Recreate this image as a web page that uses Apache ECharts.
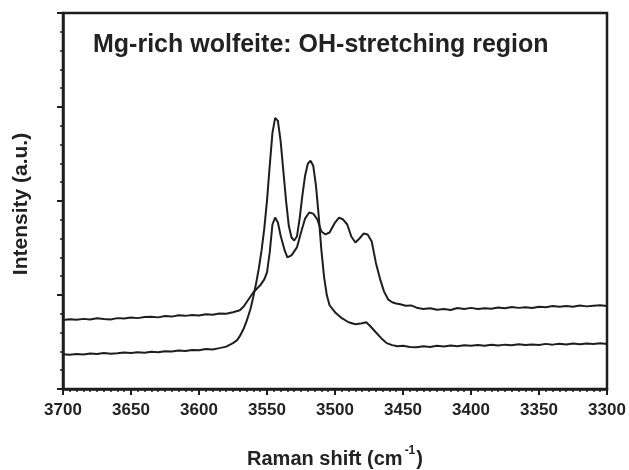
<!DOCTYPE html>
<html>

<head>
  <meta charset="utf-8">
  <title>Mg-rich wolfeite Raman</title>
  <script src="https://cdn.jsdelivr.net/npm/echarts@6/dist/echarts.min.js"></script>
  <style>
    html, body {
      margin: 0;
      padding: 0;
      background: #fff;
    }

    #chart {
      width: 629px;
      height: 470px;
    }
  </style>
</head>

<body>
  <div id="chart"></div>
  <script>
    // spectrum with the upper baseline (weaker, broader bands)
    const waveA = [3700, 3695, 3690, 3685, 3680, 3675, 3670, 3665, 3660, 3655, 3650, 3645, 3640, 3635, 3630, 3625, 3620, 3615, 3610, 3605, 3600, 3595, 3590, 3585, 3580, 3575,
      3570, 3567, 3564, 3560, 3555, 3552, 3550, 3548, 3546, 3544, 3542, 3540, 3537, 3535, 3532, 3528, 3525, 3522, 3519, 3516, 3513, 3510, 3507, 3504, 3500, 3497, 3494, 3491, 3488, 3485, 3482, 3479, 3476, 3473, 3470, 3467, 3464, 3461,
      3458, 3455, 3452, 3448, 3444, 3440, 3435, 3430, 3425, 3420, 3415, 3410, 3405, 3400, 3395, 3390, 3385, 3380, 3375, 3370, 3365, 3360, 3355, 3350, 3345, 3340, 3335, 3330, 3325, 3320, 3315, 3310, 3305, 3300];
    const intensA = [73.5, 74.3, 73.6, 74.6, 74.0, 75.2, 74.5, 74.0, 75.4, 75.0, 76.0, 75.4, 76.5, 76.9, 76.2, 77.6, 77.0, 78.4, 77.8, 78.8, 78.3, 79.6, 79.0, 80.4, 80.0, 81.7,
      83.8, 88.0, 94.4, 102.9, 110.3, 116.6, 124.1, 145.3, 175.0, 182.4, 177.1, 163.3, 147.4, 140.0, 142.1, 150.6, 166.5, 181.3, 187.7, 186.6, 180.3, 167.5, 164.4, 166.5, 177.1, 182.4, 180.3, 175.0, 162.2, 155.9, 160.1, 165.4, 164.4, 156.9, 134.7, 117.7, 103.9, 95.4,
      92.3, 91.0, 90.1, 88.6, 88.9, 86.5, 85.2, 86.0, 84.3, 85.0, 84.0, 86.2, 85.0, 86.3, 85.2, 86.0, 85.4, 86.8, 86.0, 87.2, 86.3, 86.9, 86.2, 87.6, 87.0, 88.3, 87.4, 88.2, 87.6, 88.8, 87.9, 88.6, 89.0, 88.4];

    // spectrum with the lower baseline (sharp 3544 / 3518 bands)
    const waveB = [3700, 3695, 3690, 3685, 3680, 3675, 3670, 3665, 3660, 3655, 3650, 3645, 3640, 3635, 3630, 3625, 3620, 3615, 3610, 3605, 3600, 3595, 3590, 3585, 3580,
      3575, 3572, 3570, 3567, 3565, 3562, 3560, 3558, 3556, 3554, 3552, 3550, 3548, 3546, 3544, 3542, 3540, 3538, 3536, 3534, 3532, 3530, 3528, 3526, 3524, 3522, 3520, 3518, 3516, 3514, 3512, 3510, 3508, 3506, 3504, 3500, 3495, 3490, 3485, 3480, 3477, 3474, 3470, 3466, 3462,
      3458, 3454, 3450, 3445, 3440, 3435, 3430, 3425, 3420, 3415, 3410, 3405, 3400, 3395, 3390, 3385, 3380, 3375, 3370, 3365, 3360, 3355, 3350, 3345, 3340, 3335, 3330, 3325, 3320, 3315, 3310, 3305, 3300];
    const intensB = [37.0, 36.4, 37.2, 36.8, 37.8, 37.2, 38.3, 37.6, 38.0, 38.9, 38.3, 39.0, 38.6, 39.6, 39.1, 40.2, 39.8, 41.0, 40.5, 41.6, 41.2, 42.6, 42.0, 43.5, 45.1,
      48.8, 52.0, 56.2, 64.7, 72.1, 85.9, 98.6, 112.4, 128.3, 147.4, 170.7, 200.4, 237.5, 272.5, 288.4, 285.2, 264.0, 232.2, 200.4, 173.9, 161.2, 158.0, 162.2, 181.3, 205.7, 226.9, 239.7, 242.8, 237.5, 216.3, 184.5, 147.4, 118.8, 99.7, 89.1, 81.7, 75.3, 71.0, 68.9, 70.0, 71.0, 66.8, 60.4, 54.1, 48.8,
      46.7, 45.4, 45.9, 44.6, 44.3, 45.4, 44.8, 45.9, 45.2, 46.3, 45.5, 46.6, 45.9, 46.8, 45.9, 47.0, 46.3, 47.2, 46.5, 47.6, 46.8, 47.4, 46.9, 48.0, 47.2, 48.1, 47.4, 48.3, 47.6, 48.4, 47.8, 48.6, 48.0];

    const xTicks = { min: 3300, max: 3700, step: 50 };
    const yTicks = { min: 0, max: 400, step: 100 };

    const ink = '#1e1e1e';
    const chart = echarts.init(document.getElementById('chart'));

    const pairs = (xs, ys) => xs.map((x, i) => [x, ys[i]]);

    chart.setOption({
      animation: false,
      backgroundColor: '#fff',
      textStyle: { fontFamily: 'Liberation Sans, Arial, sans-serif' },
      grid: {
        left: 63, right: 22, top: 13, bottom: 81,
        outerBoundsMode: 'none',
        show: true, borderColor: ink, borderWidth: 2.5
      },
      graphic: [{
        type: 'text',
        left: 93, top: 33,
        style: {
          text: 'Mg-rich wolfeite: OH-stretching region',
          fontFamily: 'Liberation Sans, Arial, sans-serif',
          fontWeight: 'bold', fontSize: 25, fill: '#222'
        }
      }],
      xAxis: {
        type: 'value',
        inverse: true,
        min: xTicks.min, max: xTicks.max, interval: xTicks.step,
        name: '{n|Raman shift (cm}{s|-1}{n|)}',
        nameLocation: 'middle',
        nameGap: 56,
        nameTextStyle: {
          rich: {
            n: { fontSize: 20, fontWeight: 'bold', color: '#222', lineHeight: 24, verticalAlign: 'bottom' },
            s: { fontSize: 12, fontWeight: 'bold', color: '#222', lineHeight: 24, verticalAlign: 'top', padding: [0, 1, 0, 2] }
          }
        },
        axisLine: { lineStyle: { color: ink, width: 2.5 } },
        axisTick: { length: 6, lineStyle: { color: ink, width: 2 } },
        minorTick: { show: true, splitNumber: 10, length: 3, lineStyle: { color: ink, width: 1.5 } },
        axisLabel: {
          fontSize: 17, fontWeight: 'bold', color: '#222', margin: 13,
          formatter: v => String(v)
        },
        splitLine: { show: false }
      },
      yAxis: {
        type: 'value',
        min: yTicks.min, max: yTicks.max, interval: yTicks.step,
        name: 'Intensity (a.u.)',
        nameLocation: 'middle',
        nameGap: 31,
        nameTextStyle: { fontSize: 21, fontWeight: 'bold', color: '#222', padding: [0, 0, 0, -6] },
        axisLine: { show: true, lineStyle: { color: ink, width: 2.5 } },
        axisTick: { length: 6, lineStyle: { color: ink, width: 2 } },
        minorTick: { show: true, splitNumber: 5, length: 3, lineStyle: { color: ink, width: 1.5 } },
        axisLabel: { show: false },
        splitLine: { show: false }
      },
      series: [{
        type: 'line',
        data: pairs(waveA, intensA),
        showSymbol: false,
        lineStyle: { color: ink, width: 2 }
      }, {
        type: 'line',
        data: pairs(waveB, intensB),
        showSymbol: false,
        lineStyle: { color: ink, width: 2 }
      }]
    });
  </script>
</body>

</html>
